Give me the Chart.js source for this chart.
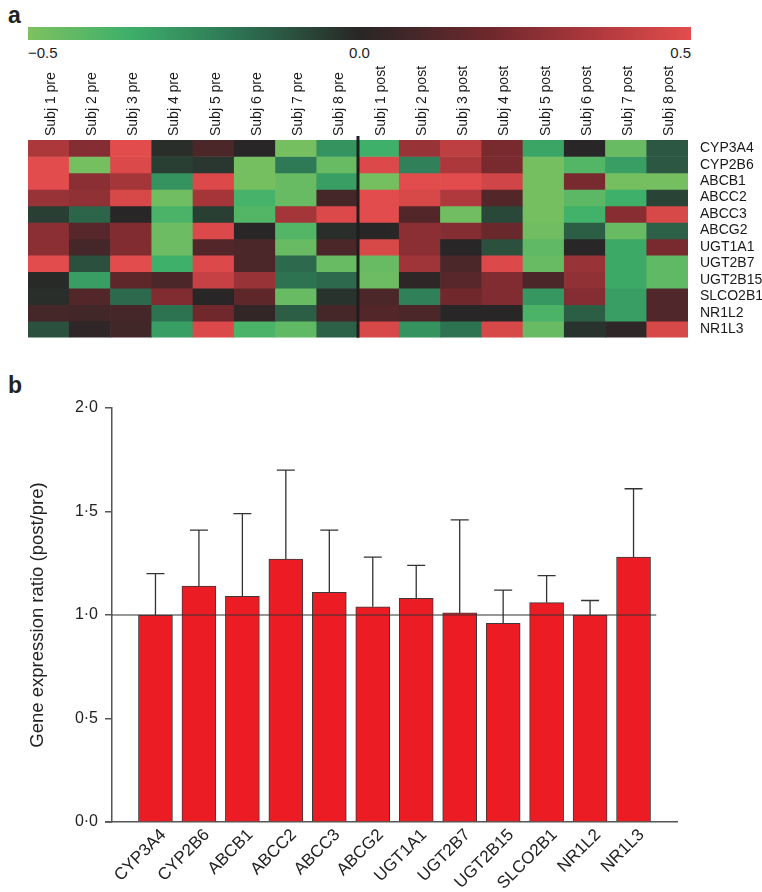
<!DOCTYPE html>
<html>
<head>
<meta charset="utf-8">
<script src="https://cdn.jsdelivr.net/npm/chart.js@4.4.1/dist/chart.umd.min.js"></script>
<style>
    body { margin: 0; background: #fff; width: 762px; height: 892px; position: relative; overflow: hidden; font-family: 'Liberation Sans', Arial, sans-serif; color: #222; }
    .panel { position: absolute; font-weight: bold; font-size: 23px; line-height: 1; }
    #cbar { position: absolute; left: 28px; top: 27px; width: 663px; height: 13px; }
    .cb { position: absolute; top: 45px; font-size: 15px; line-height: 1; }
    #heatWrap { position: absolute; left: 0; top: 60px; width: 762px; height: 290px; }
    #barWrap { position: absolute; left: 0; top: 380px; width: 762px; height: 512px; }
</style>
</head>
<body>
<div class="panel" style="left:8px;top:4px;">a</div>
<div id="cbar"></div>
<div id="cbLabels"></div>
<div id="heatWrap"><canvas id="heatChart"></canvas></div>
<div class="panel" style="left:8px;top:374px;">b</div>
<div id="barWrap"><canvas id="barChart"></canvas></div>

<script>
const subjects = ['Subj 1 pre', 'Subj 2 pre', 'Subj 3 pre', 'Subj 4 pre', 'Subj 5 pre', 'Subj 6 pre', 'Subj 7 pre', 'Subj 8 pre',
    'Subj 1 post', 'Subj 2 post', 'Subj 3 post', 'Subj 4 post', 'Subj 5 post', 'Subj 6 post', 'Subj 7 post', 'Subj 8 post'];
const genes = ['CYP3A4', 'CYP2B6', 'ABCB1', 'ABCC2', 'ABCC3', 'ABCG2', 'UGT1A1', 'UGT2B7', 'UGT2B15', 'SLCO2B1', 'NR1L2', 'NR1L3'];

// heatmap values, one row per gene, one column per subject sample
const heatValues = [
    [0.35, 0.25, 0.50, -0.02, 0.10, 0.00, -0.48, -0.27, -0.35, 0.30, 0.40, 0.22, -0.32, 0.00, -0.45, -0.12],
    [0.50, -0.48, 0.48, -0.06, -0.04, -0.48, -0.20, -0.45, 0.48, -0.22, 0.35, 0.22, -0.48, -0.40, -0.30, -0.12],
    [0.50, 0.27, 0.33, -0.27, 0.48, -0.48, -0.45, -0.30, -0.48, 0.50, 0.50, 0.45, -0.48, 0.22, -0.48, -0.48],
    [0.30, 0.28, 0.47, -0.47, 0.33, -0.37, -0.45, 0.08, 0.50, 0.47, 0.36, 0.12, -0.48, -0.42, -0.35, -0.07],
    [-0.06, -0.15, 0.00, -0.38, -0.06, -0.40, 0.33, 0.48, 0.50, 0.12, -0.47, -0.08, -0.48, -0.36, 0.26, 0.47],
    [0.27, 0.13, 0.24, -0.46, 0.48, 0.00, -0.40, -0.02, 0.00, 0.27, 0.25, 0.18, -0.47, -0.13, -0.45, -0.14],
    [0.27, 0.08, 0.24, -0.46, 0.12, 0.10, -0.45, 0.10, 0.47, 0.27, 0.00, -0.10, -0.43, 0.00, -0.33, 0.22],
    [0.50, -0.10, 0.50, -0.35, 0.48, 0.10, -0.16, -0.45, -0.45, 0.32, 0.10, 0.48, -0.45, 0.30, -0.33, -0.43],
    [-0.01, -0.30, 0.15, 0.10, 0.42, 0.30, -0.18, -0.16, -0.46, 0.02, 0.13, 0.24, 0.10, 0.28, -0.33, -0.43],
    [-0.02, 0.12, -0.16, 0.24, 0.00, 0.15, -0.45, -0.03, 0.10, -0.22, 0.20, 0.24, -0.28, 0.25, -0.30, 0.11],
    [0.08, 0.07, 0.08, -0.18, 0.20, 0.03, -0.13, 0.08, 0.12, 0.10, 0.00, 0.00, -0.38, -0.13, -0.30, 0.11],
    [-0.10, 0.02, 0.07, -0.30, 0.48, -0.38, -0.43, -0.14, 0.47, -0.27, -0.18, 0.47, -0.45, -0.03, 0.02, 0.47]
];
const colorbarTicks = [-0.5, 0, 0.5];

// bar panel: mean post/pre ratio and top of the error bar
const ratioMean = [1.00, 1.14, 1.09, 1.27, 1.11, 1.04, 1.08, 1.01, 0.96, 1.06, 1.00, 1.28];
const ratioUpper = [1.20, 1.41, 1.49, 1.70, 1.41, 1.28, 1.24, 1.46, 1.12, 1.19, 1.07, 1.61];
const yTicks = [0, 0.5, 1.0, 1.5, 2.0];

// green - black - red colour map
const cmapStops = [
    [-0.5, [126, 193, 96]],
    [-0.35, [62, 176, 106]],
    [-0.2, [46, 122, 86]],
    [0, [40, 38, 38]],
    [0.2, [112, 40, 45]],
    [0.35, [172, 56, 60]],
    [0.5, [226, 76, 76]]
];

function heatColor(v) {
    v = Math.max(-0.5, Math.min(0.5, v));
    for (let i = 0; i < cmapStops.length - 1; i++) {
        const [a, ca] = cmapStops[i];
        const [b, cb] = cmapStops[i + 1];
        if (v >= a && v <= b) {
            const t = (v - a) / (b - a);
            const c = ca.map((x, k) => Math.round(x + (cb[k] - x) * t));
            return `rgb(${c[0]},${c[1]},${c[2]})`;
        }
    }
    return 'rgb(40,38,38)';
}

// colour bar
const grad = cmapStops.map(([v]) => `${heatColor(v)} ${((v + 0.5) * 100).toFixed(0)}%`).join(', ');
document.getElementById('cbar').style.background = `linear-gradient(to right, ${grad})`;
const cbBox = document.getElementById('cbLabels');
colorbarTicks.forEach((t, i) => {
    const d = document.createElement('div');
    d.className = 'cb';
    d.textContent = (t < 0 ? '\u2212' : '') + Math.abs(t).toFixed(1);
    const px = 28 + (t + 0.5) * 663;
    if (i === 0) d.style.left = px + 'px';
    else if (i === colorbarTicks.length - 1) d.style.right = (762 - px) + 'px';
    else { d.style.left = px + 'px'; d.style.transform = 'translateX(-50%)'; }
    cbBox.appendChild(d);
});

Chart.defaults.font.family = "'Liberation Sans', Arial, sans-serif";
Chart.defaults.color = '#222';

const dividerPlugin = {
    id: 'divider',
    afterDatasetsDraw(chart) {
        const xs = chart.scales.x;
        const area = chart.chartArea;
        const x = (xs.getPixelForTick(7) + xs.getPixelForTick(8)) / 2;
        const ctx = chart.ctx;
        ctx.save();
        ctx.strokeStyle = '#1e1e1e';
        ctx.lineWidth = 3;
        ctx.beginPath();
        ctx.moveTo(x, area.top - 4);
        ctx.lineTo(x, area.bottom);
        ctx.stroke();
        ctx.restore();
    }
};

new Chart(document.getElementById('heatChart'), {
    type: 'bar',
    data: {
        labels: subjects,
        datasets: genes.map((g, r) => ({
            label: g,
            data: subjects.map(() => 1),
            backgroundColor: heatValues[r].map(heatColor),
            borderWidth: 0,
            barPercentage: 1,
            categoryPercentage: 1
        }))
    },
    options: {
        responsive: true,
        maintainAspectRatio: false,
        animation: false,
        layout: { padding: { left: 28, bottom: 8 } },
        plugins: { legend: { display: false }, tooltip: { enabled: false } },
        scales: {
            x: {
                position: 'top',
                stacked: true,
                grid: { display: false },
                border: { display: false },
                ticks: { autoSkip: false, minRotation: 90, maxRotation: 90, padding: -4, labelOffset: 19, font: { size: 14 }, color: '#1a1a1a' },
                afterFit: s => { s.height = 80; }
            },
            y: {
                position: 'right',
                stacked: true,
                reverse: true,
                min: 0,
                max: genes.length,
                grid: { display: false },
                border: { display: false },
                afterBuildTicks: axis => { axis.ticks = genes.map((g, i) => ({ value: i + 0.5 })); },
                ticks: { autoSkip: false, padding: 4, font: { size: 14 }, color: '#1a1a1a', callback: (v, i) => genes[i] },
                afterFit: s => { s.width = 74; }
            }
        }
    },
    plugins: [dividerPlugin]
});

const errorBarPlugin = {
    id: 'errorBars',
    afterDatasetsDraw(chart) {
        const xs = chart.scales.x;
        const ys = chart.scales.y;
        const ctx = chart.ctx;
        ctx.save();
        ctx.strokeStyle = '#333';
        ctx.lineWidth = 1.3;
        ratioMean.forEach((m, i) => {
            const x = xs.getPixelForValue(i);
            const y0 = ys.getPixelForValue(m);
            const y1 = ys.getPixelForValue(ratioUpper[i]);
            ctx.beginPath();
            ctx.moveTo(x, y0);
            ctx.lineTo(x, y1);
            ctx.moveTo(x - 9, y1);
            ctx.lineTo(x + 9, y1);
            ctx.stroke();
        });
        // reference line at ratio 1
        const yRef = ys.getPixelForValue(1);
        ctx.lineWidth = 1.2;
        ctx.beginPath();
        ctx.moveTo(chart.chartArea.left, yRef);
        ctx.lineTo(xs.getPixelForValue(genes.length - 0.5) + 1, yRef);
        ctx.stroke();
        // x axis runs a little past the y axis, under the tick marks
        const yBase = ys.getPixelForValue(0);
        ctx.strokeStyle = '#555';
        ctx.lineWidth = 1.5;
        ctx.beginPath();
        ctx.moveTo(chart.chartArea.left - 7, yBase);
        ctx.lineTo(chart.chartArea.left, yBase);
        ctx.stroke();
        ctx.restore();
    }
};

new Chart(document.getElementById('barChart'), {
    type: 'bar',
    data: {
        datasets: [{
            data: genes.map((g, i) => ({ x: i, y: ratioMean[i] })),
            backgroundColor: '#ec1c24',
            borderColor: '#3a3a3a',
            borderWidth: 1,
            borderSkipped: 'bottom',
            barThickness: 34
        }]
    },
    options: {
        responsive: true,
        maintainAspectRatio: false,
        animation: false,
        layout: { padding: { top: 28, right: 85 } },
        plugins: { legend: { display: false }, tooltip: { enabled: false } },
        scales: {
            x: {
                type: 'linear',
                offset: false,
                min: -1,
                max: genes.length,
                grid: { display: false },
                border: { color: '#555', width: 1.5 },
                afterBuildTicks: axis => { axis.ticks = genes.map((g, i) => ({ value: i })); },
                ticks: { autoSkip: false, minRotation: 45, maxRotation: 45, padding: -5, labelOffset: 8, font: { size: 17 }, color: '#222', callback: (v, i) => genes[i] },
                afterFit: s => { s.height = 70; }
            },
            y: {
                min: 0,
                max: 2,
                afterBuildTicks: axis => { axis.ticks = yTicks.map(v => ({ value: v })); },
                grid: { drawOnChartArea: false, tickLength: 7, color: '#555', lineWidth: 1.5 },
                border: { color: '#555', width: 1.5 },
                ticks: { padding: 7, font: { size: 16 }, color: '#222', callback: v => v.toFixed(1).replace('.', '\u00b7') },
                title: { display: true, text: 'Gene expression ratio (post/pre)', font: { size: 18.5 }, color: '#222', padding: { top: 27, bottom: 0 } },
                afterFit: s => { s.width = 112; }
            }
        }
    },
    plugins: [errorBarPlugin]
});
</script>
</body>
</html>
